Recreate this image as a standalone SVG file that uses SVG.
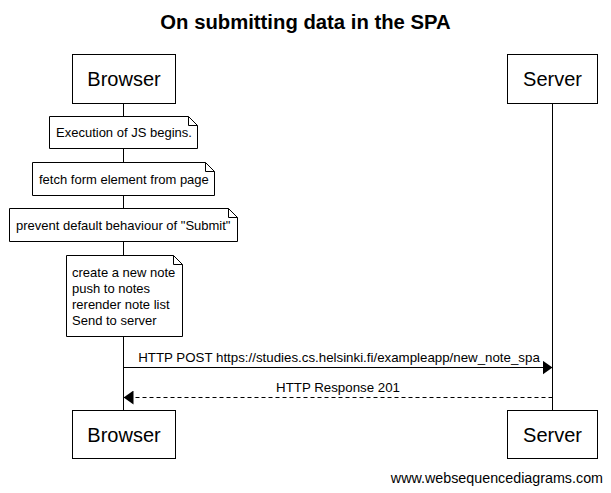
<svg xmlns="http://www.w3.org/2000/svg" width="611" height="493" viewBox="0 0 611 493">
<style>
text{font-family:"Liberation Sans",Arial,sans-serif;fill:#000}
.box{fill:#fff;stroke:#000;stroke-width:1}
.p{font-size:20px;text-anchor:middle}
.n{font-size:13px}
.m{font-size:13.3px;text-anchor:middle}
.life{stroke:#000;stroke-width:1}
</style>
<defs>
<marker id="ah" markerWidth="10" markerHeight="14" refX="10" refY="7" orient="auto" markerUnits="userSpaceOnUse">
<path d="M0,0 L10,7 L0,14 Z" fill="#000"/>
</marker>
</defs>
<rect width="611" height="493" fill="#fff"/>
<text x="305.5" y="29" font-size="20.3" font-weight="bold" text-anchor="middle">On submitting data in the SPA</text>
<g id="lifelines">
<line class="life" x1="123.5" y1="103" x2="123.5" y2="410"/>
<line class="life" x1="552.5" y1="103" x2="552.5" y2="410"/>
</g>
<g id="browser-top"><rect class="box" x="72.5" y="54.5" width="103" height="49"/><text class="p" x="124" y="86">Browser</text></g>
<g id="server-top"><rect class="box" x="507.5" y="54.5" width="90" height="49"/><text class="p" x="552.5" y="86">Server</text></g>
<g id="note1"><path class="box" d="M49.5,116.5 H188.5 L197.5,125.5 V148.5 H49.5 Z"/><path d="M188.5,116.5 V125.5 H197.5" fill="none" stroke="#000"/><text class="n" x="56" y="137">Execution of JS begins.</text></g>
<g id="note2"><path class="box" d="M32.5,162.5 H205.5 L214.5,171.5 V195.5 H32.5 Z"/><path d="M205.5,162.5 V171.5 H214.5" fill="none" stroke="#000"/><text class="n" x="39" y="184">fetch form element from page</text></g>
<g id="note3"><path class="box" d="M9.5,208.5 H228.5 L237.5,217.5 V241.5 H9.5 Z"/><path d="M228.5,208.5 V217.5 H237.5" fill="none" stroke="#000"/><text class="n" x="16" y="230">prevent default behaviour of "Submit"</text></g>
<g id="note4"><path class="box" d="M66.5,255.5 H173.5 L182.5,264.5 V336.5 H66.5 Z"/><path d="M173.5,255.5 V264.5 H182.5" fill="none" stroke="#000"/>
<text class="n" x="72" y="277">create a new note</text>
<text class="n" x="72" y="293">push to notes</text>
<text class="n" x="72" y="309">rerender note list</text>
<text class="n" x="72" y="325">Send to server</text></g>
<g id="connectors">
<line x1="123.5" y1="367.5" x2="552.5" y2="367.5" stroke="#000" marker-end="url(#ah)"/>
<text class="m" x="339" y="362">HTTP POST https://studies.cs.helsinki.fi/exampleapp/new_note_spa</text>
<line x1="552.5" y1="397.5" x2="123.5" y2="397.5" stroke="#000" stroke-dasharray="4,3" marker-end="url(#ah)"/>
<text class="m" x="338" y="392">HTTP Response 201</text>
</g>
<g id="browser-bottom"><rect class="box" x="72.5" y="410.5" width="103" height="48"/><text class="p" x="124" y="442">Browser</text></g>
<g id="server-bottom"><rect class="box" x="507.5" y="410.5" width="90" height="48"/><text class="p" x="552.5" y="442">Server</text></g>
<text x="603" y="483" font-size="14.3" text-anchor="end">www.websequencediagrams.com</text>
</svg>
